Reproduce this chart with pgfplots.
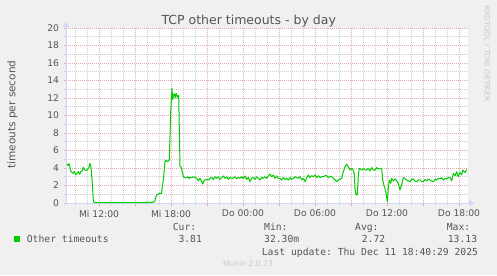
\documentclass[border=0pt]{standalone}
\usepackage{pgfplots}
\pgfplotsset{compat=1.18}
\usepackage{fontspec}
\setmainfont{DejaVu Sans}
\setmonofont{DejaVu Sans Mono}
\usetikzlibrary{arrows.meta}
\definecolor{bgc}{HTML}{F0F0F0}
\definecolor{fontc}{HTML}{555555}
\definecolor{axisc}{HTML}{CFD6F8}
\definecolor{mgridc}{HTML}{E6A8A8}
\definecolor{gridc}{HTML}{CDCDCD}
\definecolor{linec}{HTML}{00CC00}
\definecolor{wmc}{HTML}{C8C8C8}

\pgfplotstableread{
h v
9.31 4.46
9.42 4.30
9.50 4.50
9.58 4.10
9.67 3.58
9.75 3.50
9.83 3.40
9.94 3.60
10.06 3.20
10.17 3.40
10.28 3.58
10.39 3.30
10.50 3.58
10.61 3.70
10.69 4.08
10.81 3.80
10.92 3.70
11.03 3.80
11.14 4.00
11.25 4.53
11.33 4.10
11.44 2.30
11.53 0.15
11.65 0.04
12.00 0.04
12.40 0.04
12.85 0.04
12.92 0.12
13.00 0.04
13.50 0.04
14.50 0.04
15.90 0.04
16.00 0.12
16.10 0.04
16.30 0.10
16.40 0.04
16.55 0.12
16.65 0.20
16.75 0.72
16.81 0.91
17.03 1.10
17.20 1.10
17.36 2.60
17.50 4.72
17.60 4.90
17.70 4.72
17.86 4.90
17.97 10.25
18.08 13.13
18.14 11.80
18.22 12.34
18.30 12.50
18.36 12.00
18.45 12.50
18.58 12.00
18.64 12.30
18.70 8.00
18.75 4.15
18.85 4.10
19.03 3.00
19.17 2.90
19.30 2.90
19.40 3.00
19.53 2.80
19.58 2.93
19.72 2.90
19.86 3.00
20.00 2.90
20.14 2.82
20.28 2.55
20.42 2.82
20.56 2.44
20.64 2.17
20.75 2.55
20.92 2.70
21.11 2.63
21.25 2.82
21.39 2.93
21.53 2.70
21.67 3.00
21.81 2.82
21.94 3.00
22.08 2.70
22.22 2.93
22.36 3.09
22.50 2.82
22.64 3.00
22.78 2.70
22.92 2.93
23.06 2.78
23.19 2.86
23.33 3.00
23.47 2.78
23.61 2.93
23.75 2.82
23.89 3.00
24.03 2.78
24.17 3.09
24.31 2.70
24.44 2.93
24.58 2.44
24.72 2.82
24.86 2.93
25.00 2.70
25.14 3.00
25.28 2.82
25.42 2.63
25.56 2.93
25.69 2.82
25.83 3.00
25.97 2.82
26.11 3.09
26.25 3.31
26.39 3.00
26.53 3.20
26.67 2.82
26.81 3.09
26.94 2.82
27.08 2.82
27.22 2.63
27.36 2.90
27.50 2.70
27.64 2.82
27.78 2.63
27.92 2.90
28.06 2.70
28.19 2.82
28.33 3.01
28.47 2.90
28.61 2.82
28.75 3.01
28.89 2.63
29.03 2.82
29.17 2.44
29.31 2.90
29.44 3.20
29.58 2.90
29.72 3.12
29.86 3.01
30.00 3.20
30.14 2.90
30.28 3.12
30.42 2.90
30.56 3.01
30.69 3.01
30.83 3.12
30.97 3.12
31.11 2.90
31.25 3.01
31.39 3.01
31.53 2.82
31.67 2.63
31.81 2.44
31.94 2.63
32.08 2.70
32.22 2.82
32.36 3.58
32.50 4.15
32.64 4.42
32.78 4.15
32.92 3.77
33.06 3.96
33.19 3.77
33.28 3.20
33.33 1.68
33.42 0.91
33.53 0.95
33.61 3.20
33.69 3.96
33.89 3.77
34.03 3.96
34.17 3.77
34.31 3.77
34.44 3.96
34.58 3.66
34.72 4.04
34.86 3.77
35.00 3.77
35.14 4.04
35.28 3.89
35.42 3.96
35.56 3.89
35.64 2.63
35.75 2.00
35.83 1.68
35.92 1.10
36.03 0.15
36.11 1.68
36.19 2.63
36.31 2.25
36.39 2.82
36.53 2.52
36.67 2.75
36.81 2.52
36.94 2.25
37.08 1.49
37.22 2.06
37.36 2.90
37.50 2.75
37.64 2.63
37.78 2.52
37.92 2.44
38.06 2.70
38.19 2.75
38.33 2.50
38.47 2.44
38.61 2.63
38.75 2.63
38.89 2.44
39.03 2.44
39.17 2.70
39.31 2.52
39.44 2.75
39.58 2.63
39.72 2.50
39.86 2.44
40.00 2.70
40.14 2.63
40.28 2.82
40.42 2.75
40.56 2.90
40.69 2.63
40.83 2.82
40.97 2.75
41.11 2.90
41.25 2.90
41.39 2.52
41.53 3.40
41.67 3.12
41.81 3.58
41.94 3.01
42.08 3.50
42.22 3.20
42.31 3.77
42.50 3.50
42.64 3.81
}\datatable

\begin{document}
\begin{tikzpicture}[x=1bp,y=1bp]
\fill[bgc] (0,0) rectangle (497,275);
\begin{axis}[
  at={(66bp,72bp)}, anchor=south west,
  width=402bp, height=175bp, scale only axis,
  xmin=9.25, xmax=42.75, ymin=0, ymax=20,
  clip=false,
  axis line style={draw=none},
  axis background/.style={fill=white},
  xtick={12,15,...,42},
  xticklabels={Mi 12:00,,Mi 18:00,,Do 00:00,,Do 06:00,,Do 12:00,,Do 18:00},
  minor xtick={10,11,...,42},
  ytick={0,2,...,20},
  minor ytick={1,3,...,19},
  xtick pos=bottom, ytick pos=left,
  grid=both,
  major grid style={mgridc, dash pattern=on 1bp off 1bp, line width=0.8bp},
  minor grid style={gridc, dash pattern=on 1bp off 1bp, line width=0.8bp},
  tick align=outside,
  major tick length=2.5bp, minor tick length=2bp,
  every major tick/.append style={mgridc, line width=0.8bp},
  every minor tick/.append style={gridc, line width=0.8bp},
  /pgf/number format/assume math mode=true,
  tick label style={font=\fontsize{9.2bp}{10bp}\selectfont, text=fontc},
  yticklabel style={xshift=-1bp},
  xticklabel style={yshift=-1bp},
]
\draw[axisc, line width=1bp, -{Triangle[length=5bp,width=6bp]}] ([xshift=-1bp]rel axis cs:0,0) -- ([xshift=6bp]rel axis cs:1,0);
\draw[axisc, line width=1bp, -{Triangle[length=5bp,width=6bp]}] ([yshift=-1bp]rel axis cs:0,0) -- ([yshift=6bp]rel axis cs:0,1);
\addplot[linec, line width=1bp, line join=round] table[x=h, y=v] {\datatable};
\end{axis}
% title and labels
\node[anchor=base, inner sep=0, text=fontc, font=\fontsize{12.5bp}{14bp}\selectfont] at (248.7,251) {TCP other timeouts - by day};
\node[rotate=90, anchor=center, inner sep=0, text=fontc, font=\fontsize{10.5bp}{12bp}\selectfont] at (12.5,160.5) {timeouts per second};
\node[rotate=-90, anchor=center, inner sep=0, text=wmc, font=\fontsize{7.5bp}{8bp}\selectfont] at (487,221.5) {RRDTOOL / TOBI OETIKER};
% legend
\fill[linec] (14,33) rectangle (20,39);
\begin{scope}[every node/.style={anchor=base west, inner sep=0, text=fontc, font=\ttfamily\fontsize{9.7bp}{11bp}\selectfont}]
\node at (26.7,32.3) {Other timeouts};
\node at (172.7,44.3) {Cur:};
\node at (264,44.3) {Min:};
\node at (355,44.3) {Avg:};
\node at (446.7,44.3) {Max:};
\node at (178.3,32.3) {3.81};
\node at (264,32.3) {32.30m};
\node at (361.7,32.3) {2.72};
\node at (447.7,32.3) {13.13};
\node at (261.7,20) {Last update: Thu Dec 11 18:40:29 2025};
\end{scope}
\node[anchor=base, inner sep=0, text=wmc, font=\fontsize{7.6bp}{8bp}\selectfont] at (248,8.3) {Munin 2.0.73};
\end{tikzpicture}
\end{document}
